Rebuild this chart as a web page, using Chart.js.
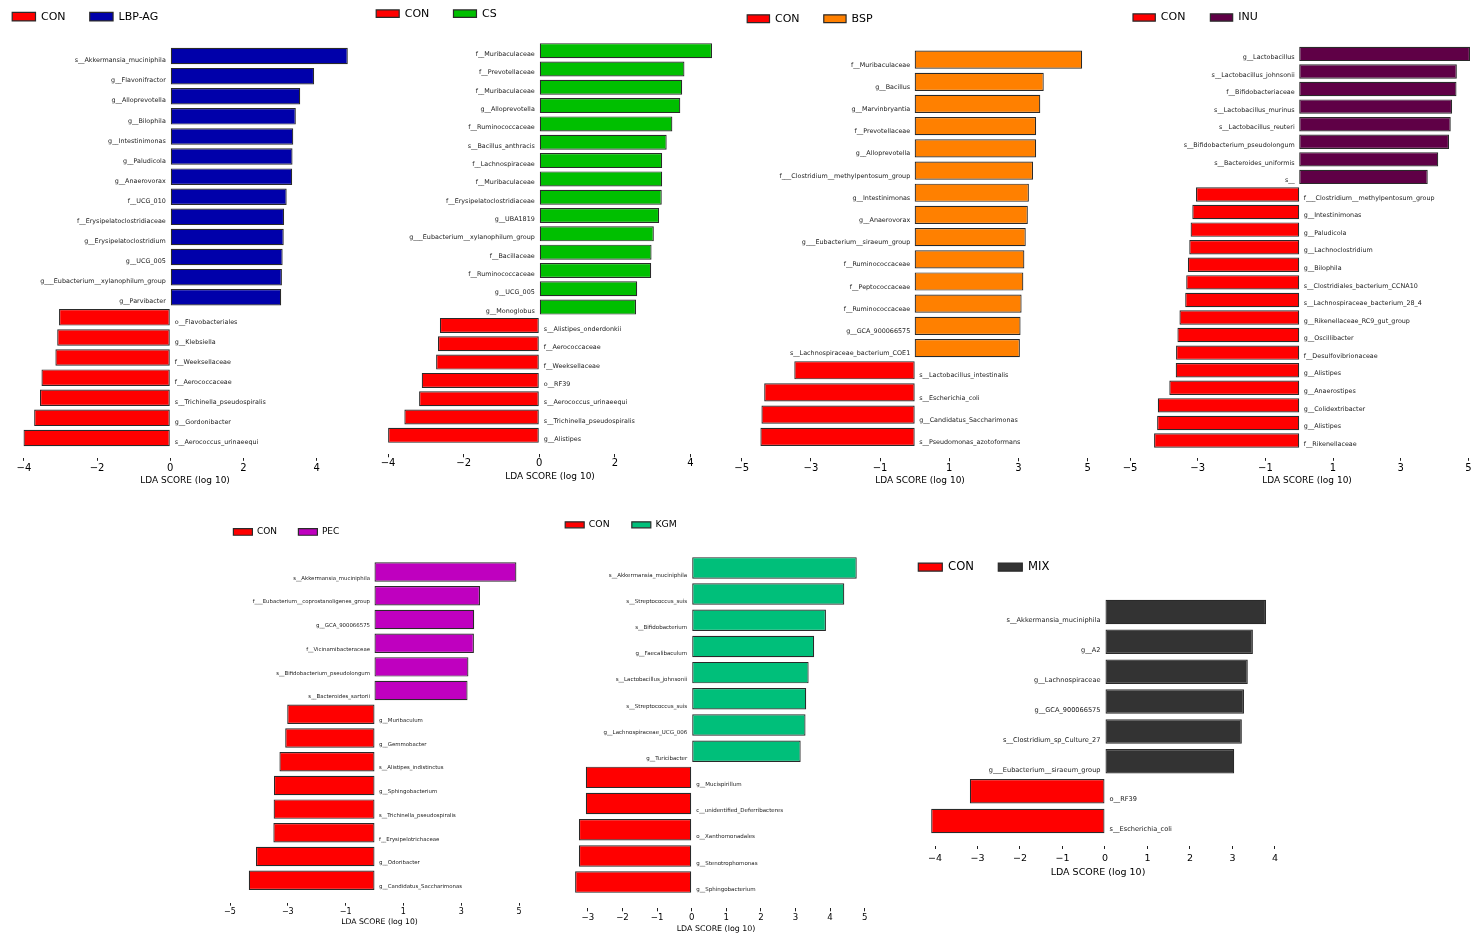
<!DOCTYPE html>
<html>
<head>
<meta charset="utf-8">
<title>LEfSe LDA scores</title>
<script src="https://cdn.jsdelivr.net/npm/chart.js@4.4.0/dist/chart.umd.min.js"></script>
<style>
  html, body { margin: 0; padding: 0; background: #fff; }
  body { position: relative; width: 1474px; height: 936px; overflow: hidden; }
  canvas { position: absolute; }
</style>
</head>
<body>
<canvas id="lda-lbp"></canvas>
<canvas id="lda-cs"></canvas>
<canvas id="lda-bsp"></canvas>
<canvas id="lda-inu"></canvas>
<canvas id="lda-pec"></canvas>
<canvas id="lda-kgm"></canvas>
<canvas id="lda-mix"></canvas>
<script>
// LDA effect sizes, CON vs each treatment group (top bar first)

const lbpLabels = [
    's__Akkermansia_muciniphila', 'g__Flavonifractor', 'g__Alloprevotella', 'g__Bilophila',
    'g__Intestinimonas', 'g__Paludicola', 'g__Anaerovorax', 'f__UCG_010',
    'f__Erysipelatoclostridiaceae', 'g__Erysipelatoclostridium', 'g__UCG_005',
    'g___Eubacterium__xylanophilum_group', 'g__Parvibacter',
    'o__Flavobacteriales', 'g__Klebsiella', 'f__Weeksellaceae', 'f__Aerococcaceae',
    's__Trichinella_pseudospiralis', 'g__Gordonibacter', 's__Aerococcus_urinaeequi'
];
const lbpScores = [4.85, 3.93, 3.55, 3.43, 3.36, 3.34, 3.33, 3.18, 3.11, 3.10, 3.07, 3.05, 3.03,
    -3.04, -3.09, -3.14, -3.52, -3.56, -3.72, -4.01];
const lbpTicks = [-4, -2, 0, 2, 4];

const csLabels = [
    'f__Muribaculaceae', 'f__Prevotellaceae', 'f__Muribaculaceae', 'g__Alloprevotella',
    'f__Ruminococcaceae', 's__Bacillus_anthracis', 'f__Lachnospiraceae', 'f__Muribaculaceae',
    'f__Erysipelatoclostridiaceae', 'g__UBA1819', 'g___Eubacterium__xylanophilum_group',
    'f__Bacillaceae', 'f__Ruminococcaceae', 'g__UCG_005', 'g__Monoglobus',
    's__Alistipes_onderdonkii', 'f__Aerococcaceae', 'f__Weeksellaceae', 'o__RF39',
    's__Aerococcus_urinaeequi', 's__Trichinella_pseudospiralis', 'g__Alistipes'
];
const csScores = [4.57, 3.84, 3.78, 3.73, 3.52, 3.37, 3.25, 3.25, 3.24, 3.17, 3.03, 2.97, 2.96, 2.59, 2.56,
    -2.63, -2.68, -2.73, -3.11, -3.18, -3.57, -4.00];
const csTicks = [-4, -2, 0, 2, 4];

const bspLabels = [
    'f__Muribaculaceae', 'g__Bacillus', 'g__Marvinbryantia', 'f__Prevotellaceae', 'g__Alloprevotella',
    'f___Clostridium__methylpentosum_group', 'g__Intestinimonas', 'g__Anaerovorax',
    'g___Eubacterium__siraeum_group', 'f__Ruminococcaceae', 'f__Peptococcaceae', 'f__Ruminococcaceae',
    'g__GCA_900066575', 's__Lachnospiraceae_bacterium_COE1',
    's__Lactobacillus_intestinalis', 's__Escherichia_coli', 'g__Candidatus_Saccharimonas',
    's__Pseudomonas_azotoformans'
];
const bspScores = [4.84, 3.73, 3.63, 3.51, 3.51, 3.42, 3.30, 3.27, 3.21, 3.17, 3.14, 3.09, 3.06, 3.04,
    -3.48, -4.35, -4.43, -4.46];
const bspTicks = [-5, -3, -1, 1, 3, 5];

const inuLabels = [
    'g__Lactobacillus', 's__Lactobacillus_johnsonii', 'f__Bifidobacteriaceae', 's__Lactobacillus_murinus',
    's__Lactobacillus_reuteri', 's__Bifidobacterium_pseudolongum', 's__Bacteroides_uniformis', 's__',
    'f___Clostridium__methylpentosum_group', 'g__Intestinimonas', 'g__Paludicola', 'g__Lachnoclostridium',
    'g__Bilophila', 's__Clostridiales_bacterium_CCNA10', 's__Lachnospiraceae_bacterium_28_4',
    'g__Rikenellaceae_RC9_gut_group', 'g__Oscillibacter', 'f__Desulfovibrionaceae', 'g__Alistipes',
    'g__Anaerostipes', 'g__Colidextribacter', 'g__Alistipes', 'f__Rikenellaceae'
];
const inuScores = [5.05, 4.66, 4.65, 4.52, 4.48, 4.43, 4.11, 3.80,
    -3.05, -3.16, -3.21, -3.25, -3.29, -3.34, -3.37, -3.54, -3.60, -3.64, -3.65, -3.84, -4.18, -4.20, -4.29];
const inuTicks = [-5, -3, -1, 1, 3, 5];

const pecLabels = [
    's__Akkermansia_muciniphila', 'f___Eubacterium__coprostanoligenes_group', 'g__GCA_900066575',
    'f__Vicinamibacteraceae', 's__Bifidobacterium_pseudolongum', 's__Bacteroides_sartorii',
    'g__Muribaculum', 'g__Gemmobacter', 's__Alistipes_indistinctus', 'g__Sphingobacterium',
    's__Trichinella_pseudospiralis', 'f__Erysipelotrichaceae', 'g__Odoribacter', 'g__Candidatus_Saccharimonas'
];
const pecScores = [4.91, 3.65, 3.45, 3.44, 3.25, 3.22,
    -3.02, -3.09, -3.29, -3.48, -3.49, -3.50, -4.10, -4.35];
const pecTicks = [-5, -3, -1, 1, 3, 5];

const kgmLabels = [
    's__Akkermansia_muciniphila', 's__Streptococcus_suis', 's__Bifidobacterium', 'g__Faecalibaculum',
    's__Lactobacillus_johnsonii', 's__Streptococcus_suis', 'g__Lachnospiraceae_UCG_006', 'g__Turicibacter',
    'g__Mucispirillum', 'c__unidentified_Deferribacteres', 'o__Xanthomonadales', 'g__Stenotrophomonas',
    'g__Sphingobacterium'
];
const kgmScores = [4.77, 4.41, 3.88, 3.54, 3.38, 3.31, 3.29, 3.15,
    -3.06, -3.06, -3.26, -3.26, -3.37];
const kgmTicks = [-3, -2, -1, 0, 1, 2, 3, 4, 5];

const mixLabels = [
    's__Akkermansia_muciniphila', 'g__A2', 'g__Lachnospiraceae', 'g__GCA_900066575',
    's__Clostridium_sp_Culture_27', 'g___Eubacterium__siraeum_group', 'o__RF39', 's__Escherichia_coli'
];
const mixScores = [3.79, 3.48, 3.36, 3.27, 3.22, 3.04, -3.18, -4.09];
const mixTicks = [-4, -3, -2, -1, 0, 1, 2, 3, 4];

const CON_COLOR = '#ff0000';
const EDGE = '#2a2a2a';
const FONT = '"DejaVu Sans", sans-serif';

Chart.defaults.font.family = FONT;
Chart.defaults.color = '#000';

const minus = v => (v < 0 ? '\u2212' + Math.abs(v) : String(v));

// g holds page placement for one panel: legend, bar band, axis rows
function ldaChart(id, group, color, labels, scores, ticks, g) {
    const legendPad = g.legendGap;
    const left = Math.round(g.boxX - legendPad);
    const top = Math.round(g.legendY - legendPad - g.legendFont / 2);
    const right = Math.round(2 * g.titleX - left);
    const tickLh = g.tickFont;
    const titleLh = g.titleFont * 1.2;
    const height = Math.ceil(g.titleY + titleLh / 2 + 2 - top);
    const width = right - left;
    const axisBottom = top + height;
    const chartTop = top + g.legendFont + legendPad + 10;
    const n = labels.length;
    const pitch = (g.bandBottom - g.bandTop) / n;
    const tickPad = g.tickLabelY - g.tickTop - g.tickLen - tickLh / 2;
    const padB = axisBottom - g.titleY - titleLh / 2;
    const padT = axisBottom - g.tickTop - g.tickLen - 2 * tickPad - tickLh - titleLh - padB;

    const canvas = document.getElementById(id);
    canvas.width = width;
    canvas.height = height;
    canvas.style.left = left + 'px';
    canvas.style.top = top + 'px';

    const conBars = [];
    const groupBars = [];
    scores.forEach((v, i) => (v < 0 ? conBars : groupBars).push({ x: v, y: i }));

    // taxon names sit next to the zero line, opposite their bar
    const barNames = {
        id: 'barNames',
        afterDatasetsDraw(chart) {
            const ctx = chart.ctx;
            const x0 = chart.scales.x.getPixelForValue(0);
            ctx.save();
            ctx.font = g.labelFont + 'px ' + FONT;
            ctx.fillStyle = '#1a1a1a';
            ctx.textBaseline = 'alphabetic';
            chart.data.datasets.forEach((ds, di) => {
                chart.getDatasetMeta(di).data.forEach((bar, j) => {
                    const pt = ds.data[j];
                    const up = pt.x > 0;
                    ctx.textAlign = up ? 'right' : 'left';
                    ctx.fillText(labels[pt.y], up ? x0 - 4.5 : x0 + 4.5, bar.y + bar.height / 2 - 2);
                });
            });
            ctx.restore();
        }
    };

    return new Chart(canvas, {
        type: 'bar',
        data: {
            datasets: [
                { label: 'CON', data: conBars, backgroundColor: CON_COLOR },
                { label: group, data: groupBars, backgroundColor: color }
            ]
        },
        options: {
            indexAxis: 'y',
            responsive: false,
            animation: false,
            events: [],
            layout: { padding: 0 },
            datasets: {
                bar: {
                    grouped: false,
                    barPercentage: 0.82,
                    categoryPercentage: 1,
                    borderColor: EDGE,
                    borderWidth: 1.2,
                    borderSkipped: false
                }
            },
            plugins: {
                legend: {
                    position: 'top',
                    align: 'start',
                    labels: {
                        boxWidth: g.boxW,
                        boxHeight: g.boxH,
                        padding: legendPad,
                        color: '#000',
                        font: { size: g.legendFont }
                    }
                },
                tooltip: { enabled: false }
            },
            scales: {
                y: {
                    type: 'linear',
                    display: false,
                    reverse: true,
                    offset: false,
                    min: -0.5 - (g.bandTop - chartTop) / pitch,
                    max: n - 0.5 + (g.tickTop - g.bandBottom) / pitch,
                    afterBuildTicks: axis => { axis.ticks = labels.map((_, i) => ({ value: i })); }
                },
                x: {
                    type: 'linear',
                    offset: false,
                    min: (left - g.zeroX) / g.unitX,
                    max: (right - g.zeroX) / g.unitX,
                    afterBuildTicks: axis => { axis.ticks = ticks.map(v => ({ value: v })); },
                    border: { display: false },
                    grid: {
                        drawOnChartArea: false,
                        drawTicks: true,
                        tickLength: g.tickLen,
                        tickColor: '#222',
                        tickWidth: 1
                    },
                    ticks: {
                        autoSkip: false,
                        maxRotation: 0,
                        padding: tickPad,
                        color: '#000',
                        font: { size: g.tickFont, lineHeight: 1 },
                        callback: v => minus(v)
                    },
                    title: {
                        display: true,
                        text: 'LDA SCORE (log 10)',
                        color: '#000',
                        font: { size: g.titleFont, lineHeight: 1.2 },
                        padding: { top: padT, bottom: padB }
                    }
                }
            }
        },
        plugins: [barNames]
    });
}

ldaChart('lda-lbp', 'LBP-AG', '#0000aa', lbpLabels, lbpScores, lbpTicks, {
    boxX: 11.7, boxW: 23.3, boxH: 8.5, legendY: 17, legendFont: 11, legendGap: 24.2,
    bandTop: 46, bandBottom: 448, tickTop: 458.3, tickLen: 2.5, tickLabelY: 468, titleY: 480.5,
    zeroX: 170.3, unitX: 36.6, titleX: 185, labelFont: 6.4, tickFont: 10, titleFont: 9
});

ldaChart('lda-cs', 'CS', '#00bf00', csLabels, csScores, csTicks, {
    boxX: 376, boxW: 23, boxH: 7.5, legendY: 14, legendFont: 11, legendGap: 24.2,
    bandTop: 41.5, bandBottom: 444.5, tickTop: 454.3, tickLen: 3, tickLabelY: 463.8, titleY: 476.5,
    zeroX: 539.3, unitX: 37.8, titleX: 550.2, labelFont: 6.4, tickFont: 10, titleFont: 9
});

ldaChart('lda-bsp', 'BSP', '#ff8000', bspLabels, bspScores, bspTicks, {
    boxX: 746.7, boxW: 22.3, boxH: 7.7, legendY: 18.2, legendFont: 11, legendGap: 24.2,
    bandTop: 48.5, bandBottom: 447.9, tickTop: 458.3, tickLen: 3, tickLabelY: 468.7, titleY: 480.5,
    zeroX: 914.7, unitX: 34.6, titleX: 920.2, labelFont: 6.4, tickFont: 10, titleFont: 9
});

ldaChart('lda-inu', 'INU', '#5f0046', inuLabels, inuScores, inuTicks, {
    boxX: 1133.3, boxW: 22.3, boxH: 7.3, legendY: 17.7, legendFont: 11, legendGap: 25,
    bandTop: 45.1, bandBottom: 449.3, tickTop: 458.3, tickLen: 2.5, tickLabelY: 468.8, titleY: 480.5,
    zeroX: 1299.2, unitX: 33.83, titleX: 1307, labelFont: 6.4, tickFont: 10, titleFont: 9
});

ldaChart('lda-pec', 'PEC', '#bf00bf', pecLabels, pecScores, pecTicks, {
    boxX: 233.3, boxW: 19, boxH: 6.7, legendY: 532.3, legendFont: 9, legendGap: 21.4,
    bandTop: 560.2, bandBottom: 892.1, tickTop: 903.3, tickLen: 2.4, tickLabelY: 912.2, titleY: 922.5,
    zeroX: 374.5, unitX: 28.9, titleX: 379.3, labelFont: 5.4, tickFont: 8, titleFont: 7.7
});

ldaChart('lda-kgm', 'KGM', '#00bf7a', kgmLabels, kgmScores, kgmTicks, {
    boxX: 565, boxW: 19, boxH: 6, legendY: 525.3, legendFont: 9.3, legendGap: 22.2,
    bandTop: 554.8, bandBottom: 895.2, tickTop: 908.3, tickLen: 3, tickLabelY: 917.5, titleY: 928.7,
    zeroX: 691.7, unitX: 34.6, titleX: 716, labelFont: 5.5, tickFont: 8.6, titleFont: 7.9
});

ldaChart('lda-mix', 'MIX', '#333333', mixLabels, mixScores, mixTicks, {
    boxX: 918, boxW: 24, boxH: 8, legendY: 567, legendFont: 11.6, legendGap: 24.3,
    bandTop: 597, bandBottom: 836, tickTop: 846, tickLen: 3, tickLabelY: 859, titleY: 873,
    zeroX: 1105, unitX: 42.5, titleX: 1098, labelFont: 6.6, tickFont: 9.5, titleFont: 9.5
});
</script>
</body>
</html>
